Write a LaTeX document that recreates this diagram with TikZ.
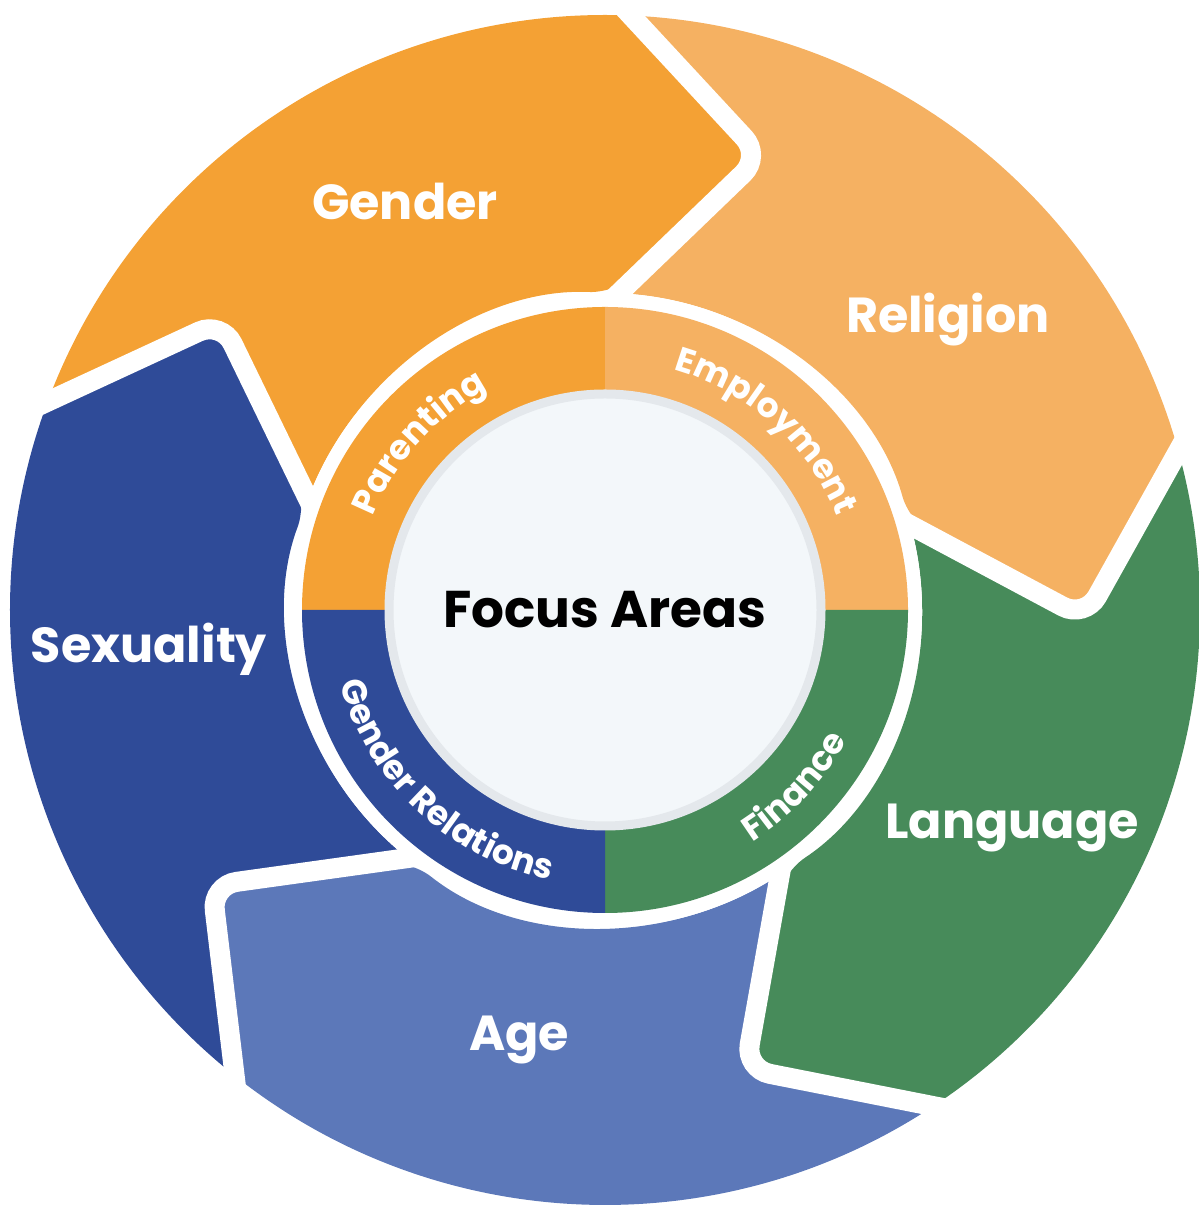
\documentclass[tikz,border=0pt]{standalone}
\usepackage{fontspec}
\setmainfont{Poppins}
\usepackage{tikz}
\usetikzlibrary{calc,decorations.text}

\definecolor{genderorange}{HTML}{F4A134}
\definecolor{religionorange}{HTML}{F5B162}
\definecolor{languagegreen}{HTML}{478B5A}
\definecolor{agesky}{HTML}{5C78B9}
\definecolor{sexualitynavy}{HTML}{2F4B98}
\definecolor{focusfill}{HTML}{F3F7FA}
\definecolor{focusrim}{HTML}{E4E8EC}

\newcommand\ringfont{\bfseries\fontsize{9.8}{12}\selectfont}

\tikzset{
  bigname/.style={text=white, font=\bfseries\fontsize{14}{17}\selectfont},
  ringtext/.style={decorate, decoration={text along path, text align=center,
    text color=white, text={|\ringfont|#1}}},
  gapline/.style={white, line width=0.2cm, rounded corners=0.25cm},
}

\begin{document}
\begin{tikzpicture}[x=1cm,y=1cm]
  \useasboundingbox (-6.05,-5.95) rectangle (5.93,6.10);
  \def\Ro{5.95} \def\Ri{3.17} \def\Rm{4.8}
  % arrows of the outer wheel, 72 degrees each, tips pointing clockwise
  \foreach \a/\c in {159.5/genderorange, 87.5/religionorange, 15.5/languagegreen,
                     -56.5/agesky, -128.5/sexualitynavy}
  {
    \pgfmathsetmacro{\b}{\a-72}
    \fill[\c] (\a:\Ro) arc[start angle=\a, end angle=\b, radius=\Ro]
      [rounded corners=0.3cm] -- (\b-16.5:\Rm) -- (\b:\Ri)
      [sharp corners] arc[start angle=\b, end angle=\a, radius=\Ri]
      -- (\a-16.5:\Rm) -- cycle;
  }
  % white gaps between the arrows
  \foreach \a in {159.5, 87.5, 15.5, -56.5, -128.5}
    \draw[gapline] ($(\a:\Ro)!-0.3cm!(\a-16.5:\Rm)$) -- (\a-16.5:\Rm)
      -- ($(\a:\Ri)!-0.3cm!(\a-16.5:\Rm)$);

  % inner ring in four quarters
  \fill[white] (0,0) circle (3.17);
  \foreach \s/\c in {90/genderorange, 0/religionorange, -90/languagegreen, 180/sexualitynavy}
    \fill[\c] (0,0) -- (\s:3.03) arc[start angle=\s, end angle=\s+90, radius=3.03] -- cycle;
  \node[circle, fill=focusfill, draw=focusrim, line width=0.09cm, minimum size=4.32cm,
    inner sep=0pt, font=\bfseries\fontsize{14.7}{18}\selectfont] (focus) at (0,0) {Focus Areas};

  % curved labels of the ring
  \path[ringtext=Parenting] (183:2.5) arc[start angle=183, end angle=93, radius=2.5];
  \path[ringtext=Employment] (93:2.5) arc[start angle=93, end angle=3, radius=2.5];
  \path[ringtext=Gender Relations] (182:2.75) arc[start angle=182, end angle=272, radius=2.75];
  \path[ringtext=Finance] (272:2.75) arc[start angle=272, end angle=362, radius=2.75];

  % names on the arrows
  \foreach \n/\x/\y/\t in {gender/-2.0/4.08/Gender, religion/3.43/2.90/Religion,
      language/4.07/-2.18/Language, age/-0.86/-4.30/Age, sexuality/-4.56/-0.39/Sexuality}
    \node[bigname] (\n) at (\x,\y) {\t};
\end{tikzpicture}
\end{document}
